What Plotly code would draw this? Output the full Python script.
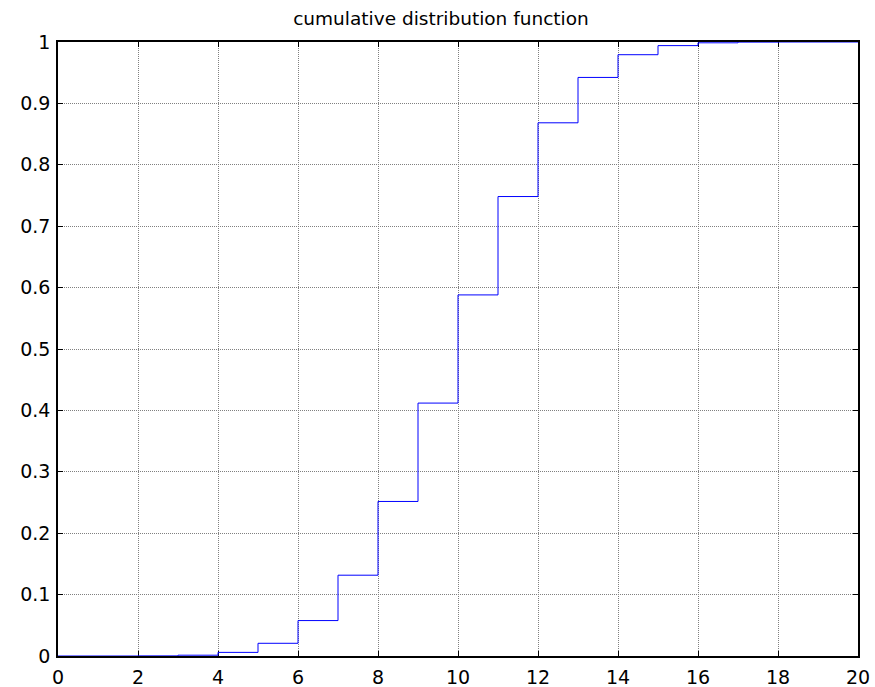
import plotly.graph_objects as go

x_vals = list(range(21))
cdf_vals = [0.0000, 0.0000, 0.0002, 0.0013, 0.0059, 0.0207, 0.0577, 0.1316,
            0.2517, 0.4119, 0.5881, 0.7483, 0.8684, 0.9423, 0.9793, 0.9941,
            0.9987, 0.9998, 1.0000, 1.0000, 1.0000]
x_ticks = list(range(0, 21, 2))
y_ticks = [0, 0.1, 0.2, 0.3, 0.4, 0.5, 0.6, 0.7, 0.8, 0.9, 1]
y_tick_labels = ["0", "0.1", "0.2", "0.3", "0.4", "0.5", "0.6", "0.7", "0.8", "0.9", "1"]
title_text = "cumulative distribution function"

fig = go.Figure()
fig.add_trace(go.Scatter(x=x_vals, y=cdf_vals, mode="lines", line_shape="hv",
                         line=dict(color="#0000FF", width=1), showlegend=False))

font = "DejaVu Sans, sans-serif"
axis_common = dict(showline=True, linecolor="black", linewidth=1.5, mirror="ticks",
                   ticks="inside", ticklen=5, tickcolor="black", tickwidth=1,
                   showgrid=True, gridcolor="#808080", griddash="1px,1px", gridwidth=1,
                   zeroline=False, layer="below traces", automargin=False,
                   tickfont=dict(family=font, size=19, color="black"))

fig.update_layout(
    width=875, height=687,
    margin=dict(l=58, r=17, t=42, b=31),
    paper_bgcolor="white", plot_bgcolor="white",
    title=dict(text=title_text, x=441/875, xanchor="center", y=1-19/687, yanchor="middle",
               font=dict(family=font, size=18.5, color="black")),
    xaxis=dict(range=[0, 20], tickvals=x_ticks, ticklabelstandoff=3, **axis_common),
    yaxis=dict(range=[0, 1], tickvals=y_ticks, ticktext=y_tick_labels, ticklabelstandoff=2,
               **axis_common),
)

fig.write_html("out.html")
